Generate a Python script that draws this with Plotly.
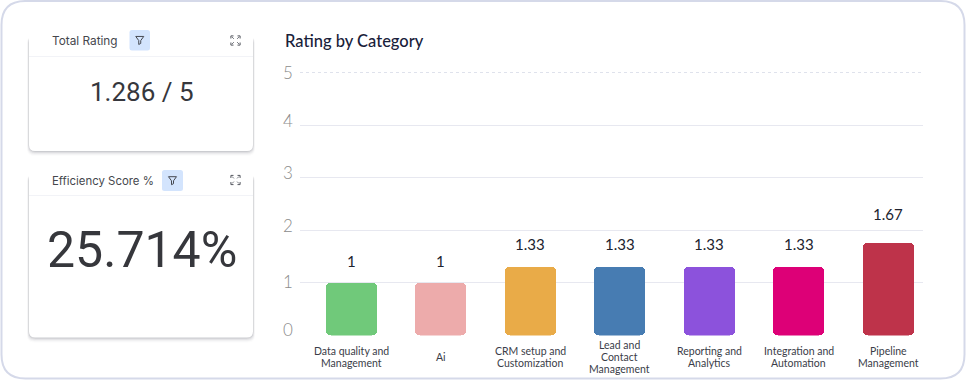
import plotly.graph_objects as go

W, H = 966, 381

categories = ["Data quality and Management", "Ai", "CRM setup and Customization",
              "Lead and Contact Management", "Reporting and Analytics",
              "Integration and Automation", "Pipeline Management"]
category_lines = [["Data quality and", "Management"], ["Ai"], ["CRM setup and", "Customization"],
                  ["Lead and", "Contact", "Management"], ["Reporting and", "Analytics"],
                  ["Integration and", "Automation"], ["Pipeline", "Management"]]
# drawn bar heights
bar_heights = [1.0, 1.0, 1.32, 1.32, 1.32, 1.32, 1.77]
# printed value labels
value_labels = ["1", "1", "1.33", "1.33", "1.33", "1.33", "1.67"]
bar_colors = ["#70C97A", "#EDABAB", "#E9AB48", "#477CB2", "#8C52DC", "#DD0077", "#BE334A"]
y_ticks = [0, 1, 2, 3, 4, 5]

CHART_FONT = "Lato"
CARD_FONT = "Inter"
NUM_FONT = "Roboto"
R = 0.1236  # height of the rounded foot of each bar, in axis units


def fx(x):
    return x / W


def fy(y):
    return 1 - y / H


def rrect(x0, y0, x1, y1, r):
    p = [(x0 + r, y0), (x1 - r, y0), (x1, y0), (x1, y0 + r), (x1, y1 - r), (x1, y1), (x1 - r, y1),
         (x0 + r, y1), (x0, y1), (x0, y1 - r), (x0, y0 + r), (x0, y0), (x0 + r, y0)]
    s = [(fx(a), fy(b)) for a, b in p]
    f = lambda q: f"{q[0]:.5f},{q[1]:.5f}"
    return (f"M{f(s[0])} L{f(s[1])} Q{f(s[2])} {f(s[3])} L{f(s[4])} Q{f(s[5])} {f(s[6])} "
            f"L{f(s[7])} Q{f(s[8])} {f(s[9])} L{f(s[10])} Q{f(s[11])} {f(s[12])} Z")


def poly(points, close=False):
    d = "M" + " L".join(f"{fx(a):.5f},{fy(b):.5f}" for a, b in points)
    return d + (" Z" if close else "")


def pshape(path, fill="rgba(0,0,0,0)", line=None, width=0, layer="below"):
    return dict(type="path", xref="paper", yref="paper", path=path, fillcolor=fill, layer=layer,
                line=dict(color=line or "rgba(0,0,0,0)", width=width))


shapes = []
# outer frame
shapes.append(pshape(rrect(1.5, 1, 964.5, 378.5, 24), fill="#FFFFFF", line="#D5D9E9", width=2))
# cards with soft shadow
for (x0, y0, x1, y1, divider) in [(29, 30, 253, 151, 56.5), (29, 168, 253, 337.5, 195.5)]:
    for grow, alpha in [(5, 0.015), (4, 0.03), (3, 0.045), (2, 0.07), (1, 0.10)]:
        shapes.append(pshape(rrect(x0 - grow * 0.4, y0 + 6, x1 + grow * 0.4, y1 + grow, 7),
                             fill=f"rgba(40,45,60,{alpha})"))
    shapes.append(pshape(rrect(x0, y0, x1, y1, 6), fill="#FFFFFF"))
    shapes.append(pshape(poly([(x0, divider), (x1, divider)]), line="#F2F3F7", width=1))

# filter badges and icons
for (bx0, bx1, by0, by1) in [(129.5, 150, 30, 50.5), (162, 183, 170, 191)]:
    shapes.append(pshape(rrect(bx0, by0, bx1, by1, 2.5), fill="#D3E4FD"))
    cx, cy = (bx0 + bx1) / 2, (by0 + by1) / 2
    shapes.append(pshape(poly([(cx - 4, cy - 3.8), (cx + 4, cy - 3.8), (cx + 1, cy + 0.3), (cx + 1, cy + 3.2),
                               (cx - 1, cy + 4.2), (cx - 1, cy + 0.3)], close=True),
                         line="#454850", width=1))
# expand icons
for cx, cy in [(235.5, 40.5), (235.5, 180)]:
    for sx in (-1, 1):
        for sy in (-1, 1):
            shapes.append(pshape(poly([(cx + sx * 2.0, cy + sy * 4.6), (cx + sx * 4.6, cy + sy * 4.6),
                                       (cx + sx * 4.6, cy + sy * 2.0)]), line="#555860", width=1))
            shapes.append(pshape(poly([(cx + sx * 1.6, cy + sy * 1.6), (cx + sx * 3.5, cy + sy * 3.5)]),
                                 line="#777A80", width=1))

# dotted top grid line
shapes.append(dict(type="line", xref="x domain", yref="y", x0=0, x1=1, y0=5, y1=5, layer="below",
                   line=dict(color="#BFC6DA", width=1, dash="dot")))

annotations = []


def note(text, x, y, size, color, font, xanchor="left", weight=400):
    annotations.append(dict(text=text, xref="paper", yref="paper", x=fx(x), y=fy(y), xanchor=xanchor,
                            yanchor="middle", showarrow=False,
                            font=dict(size=size, color=color, family=font, weight=weight)))


note("Total Rating", 50, 41, 11.8, "#45474D", CARD_FONT)
note("Efficiency Score %", 50, 180.5, 11.4, "#45474D", CARD_FONT)
note("1.286 / 5", 142, 92, 26, "#36373C", NUM_FONT, "center")
note("25.714%", 141.5, 250, 50, "#36373C", NUM_FONT, "center")
note("Rating by Category", 283, 41, 16.5, "#19213A", CHART_FONT, weight=500)

# y tick labels, sitting slightly above their grid lines as in the source
tick_shift = [6, 1, 5, 5, 5, 0]
for t, s in zip(y_ticks, tick_shift):
    annotations.append(dict(text=str(t), xref="paper", yref="y", x=fx(295), y=t, yshift=s, xanchor="right",
                            yanchor="middle", showarrow=False,
                            font=dict(size=17, color="#8C8C8C", family=CHART_FONT, weight=300)))

# value labels above bars
label_shift = [22, 22, 22, 22, 22, 22, 28]
for c, v, h, s in zip(categories, value_labels, bar_heights, label_shift):
    annotations.append(dict(text=v, xref="x", yref="y", x=c, y=h, yshift=s, xanchor="center", yanchor="middle",
                            showarrow=False, font=dict(size=15, color="#20232E", family=CHART_FONT, weight=400)))

# category labels, one annotation per line to hold the tight line height
LINE = 12
for c, lines in zip(categories, category_lines):
    for i, ln in enumerate(lines):
        shift = -21.5 - (i - (len(lines) - 1) / 2) * LINE
        annotations.append(dict(text=ln, xref="x", yref="y", x=c, y=0, yshift=shift, xanchor="center",
                                yanchor="middle", showarrow=False,
                                font=dict(size=10.5, color="#3A3D48", family=CHART_FONT)))

fig = go.Figure()
# keeps the primary axis (grid lines and labels) alive
fig.add_scatter(x=categories, y=bar_heights, mode="markers", marker=dict(opacity=0, size=1),
                hoverinfo="skip", yaxis="y")
# The bars live on a second axis whose zero sits R above the baseline, so the
# upward part rounds its top and the downward part rounds its foot.
fig.add_bar(x=categories, y=[h - R for h in bar_heights], width=0.57, yaxis="y2",
            marker=dict(color=bar_colors, cornerradius=5, line=dict(width=0)), hoverinfo="skip")
fig.add_bar(x=categories, y=[-R] * len(categories), width=0.57, yaxis="y2",
            marker=dict(color=bar_colors, cornerradius=5, line=dict(width=0)), hoverinfo="skip")

fig.update_layout(
    width=W, height=H, margin=dict(l=0, r=0, t=0, b=0, pad=0),
    paper_bgcolor="#FFFFFF", plot_bgcolor="rgba(0,0,0,0)",
    barmode="overlay", showlegend=False, bargap=0,
    shapes=shapes, annotations=annotations,
    xaxis=dict(domain=[fx(300), fx(923)], range=[-0.57, 6.39], type="category",
               categoryorder="array", categoryarray=categories,
               showticklabels=False, showgrid=False, zeroline=False, ticks="", fixedrange=True),
    yaxis=dict(domain=[fy(335.5), fy(72.5)], range=[0, 5], tickvals=y_ticks[:-1], showticklabels=False,
               gridcolor="#E7E8F0", gridwidth=1, zeroline=False, ticks="", fixedrange=True),
    yaxis2=dict(overlaying="y", range=[-R, 5 - R], visible=False, showgrid=False, zeroline=False,
                fixedrange=True),
)

fig.write_html("out.html", config=dict(displayModeBar=False),
               post_script="document.body.style.margin='0';document.body.style.overflow='hidden';")
